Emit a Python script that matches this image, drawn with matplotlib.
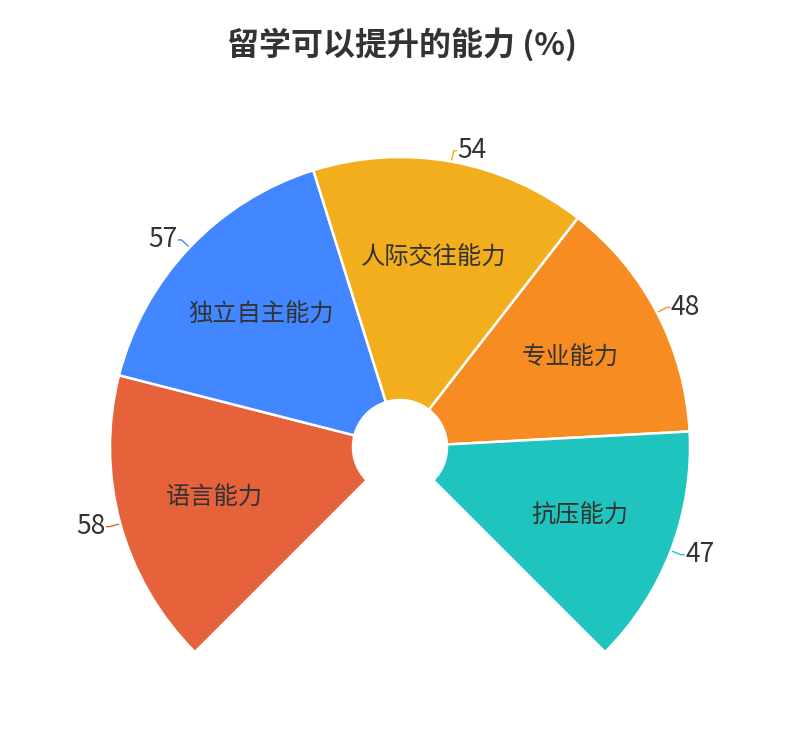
import numpy as np
import matplotlib
matplotlib.use('Agg')
import matplotlib.pyplot as plt
from matplotlib.patches import Wedge

plt.rcParams['font.family'] = ['Noto Sans CJK SC', 'DejaVu Sans']

title = '留学可以提升的能力 (%)'
names = ['语言能力', '独立自主能力', '人际交往能力', '专业能力', '抗压能力']
values = [58, 57, 54, 48, 47]
colors = ['#E5623B', '#4287FF', '#F2AE1C', '#F78D22', '#20C4BE']

W, H = 800, 740
fig = plt.figure(figsize=(W / 100, H / 100), dpi=100)
ax = fig.add_axes([0, 0, 1, 1])
ax.set_xlim(0, W)
ax.set_ylim(0, H)
ax.set_aspect('equal')
ax.axis('off')

cx, cy = 400, 293          # centre (y measured from bottom)
r_out, r_in = 290, 47
start, sweep = 225.0, 270.0  # degrees, clockwise from lower-left to lower-right

total = sum(values)
spans = [v / total * sweep for v in values]
theta_hi = start
for name, val, col, sp in zip(names, values, colors, spans):
    theta_lo = theta_hi - sp
    ax.add_patch(Wedge((cx, cy), r_out, theta_lo, theta_hi, width=r_out - r_in,
                       facecolor=col, edgecolor='white', linewidth=1.8))
    mid = np.radians((theta_lo + theta_hi) / 2)
    c, s = np.cos(mid), np.sin(mid)

    # name inside the sector
    ax.text(cx + 192 * c, cy + 192 * s, name, ha='center', va='center',
            fontsize=17.5, color='#333333', fontweight='light')

    # short label line + value outside
    x1, y1 = cx + 292 * c, cy + 292 * s
    x2, y2 = cx + 301 * c, cy + 301 * s
    side = 1 if c >= 0 else -1
    x3 = x2 + side * 3
    ax.plot([x1, x2, x3], [y1, y2, y2], color=col, linewidth=1)
    ax.text(x3 + side * 1, y2, str(val), ha='left' if side > 0 else 'right',
            va='center', fontsize=19, color='#333333')
    theta_hi = theta_lo

ax.text(W / 2 + 2, H - 45, title, ha='center', va='center', fontsize=23,
        fontweight='bold', color='#333333')

fig.savefig('out.png', dpi=100, facecolor='white')
